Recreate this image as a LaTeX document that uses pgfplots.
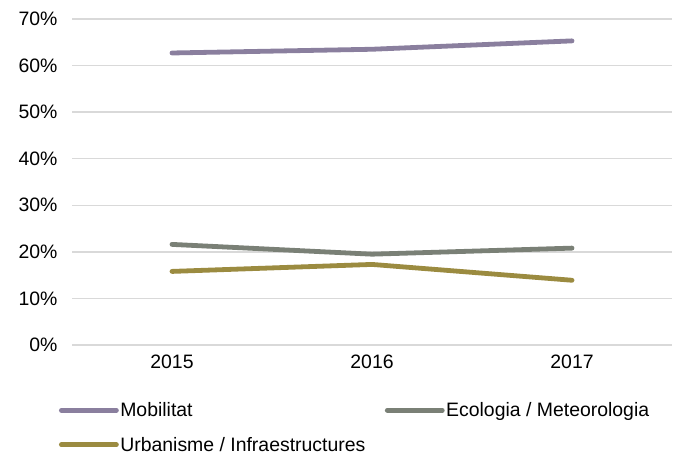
\documentclass[border=0pt]{standalone}
\usepackage{pgfplots}
\pgfplotsset{compat=1.18}
\usepackage{fontspec}
\setmainfont{Liberation Sans}
\definecolor{mob}{RGB}{138,127,158}
\definecolor{eco}{RGB}{122,128,118}
\definecolor{urb}{RGB}{155,139,64}
\definecolor{gridc}{RGB}{217,217,217}
\begin{document}
\begin{tikzpicture}[x=1bp,y=1bp]
\useasboundingbox (0,0) rectangle (674,453);
\begin{axis}[
  at={(72bp,108bp)}, anchor=south west,
  width=600bp, height=326bp, scale only axis,
  xmin=-0.5, xmax=2.5, ymin=0, ymax=70,
  xtick={0,1,2}, xticklabels={2015,2016,2017},
  ytick={0,10,...,70},
  yticklabel={\pgfmathprintnumber{\tick}\%},
  /pgf/number format/assume math mode=true,
  ymajorgrids, grid style={draw=gridc, line width=1.3bp},
  axis line style={draw=none},
  major tick length=0pt,
  tick label style={font=\fontsize{19.5}{21}\selectfont, text=black},
  yticklabel style={xshift=-11bp},
  xticklabel style={yshift=-6bp},
  every axis plot/.append style={line width=4.8bp, line cap=round, line join=round},
  legend columns=2,
  legend image code/.code={\draw[#1, line cap=round] (0bp,0bp) -- (55bp,0bp);},
  legend style={at={(axis description cs:-0.027,-0.165)}, anchor=north west,
    draw=none, fill=none, font=\fontsize{19.5}{21}\selectfont,
    nodes={inner sep=1.5bp}, row sep=16bp,
    /tikz/every even column/.append style={column sep=18bp}},
  legend cell align=left,
]
\addplot[color=mob] coordinates {(0,62.7) (1,63.5) (2,65.3)};
\addlegendentry{Mobilitat}
\addplot[color=eco] coordinates {(0,21.6) (1,19.5) (2,20.8)};
\addlegendentry{Ecologia / Meteorologia}
\addplot[color=urb] coordinates {(0,15.8) (1,17.3) (2,13.9)};
\addlegendentry{Urbanisme / Infraestructures}
\end{axis}
\end{tikzpicture}
\end{document}
